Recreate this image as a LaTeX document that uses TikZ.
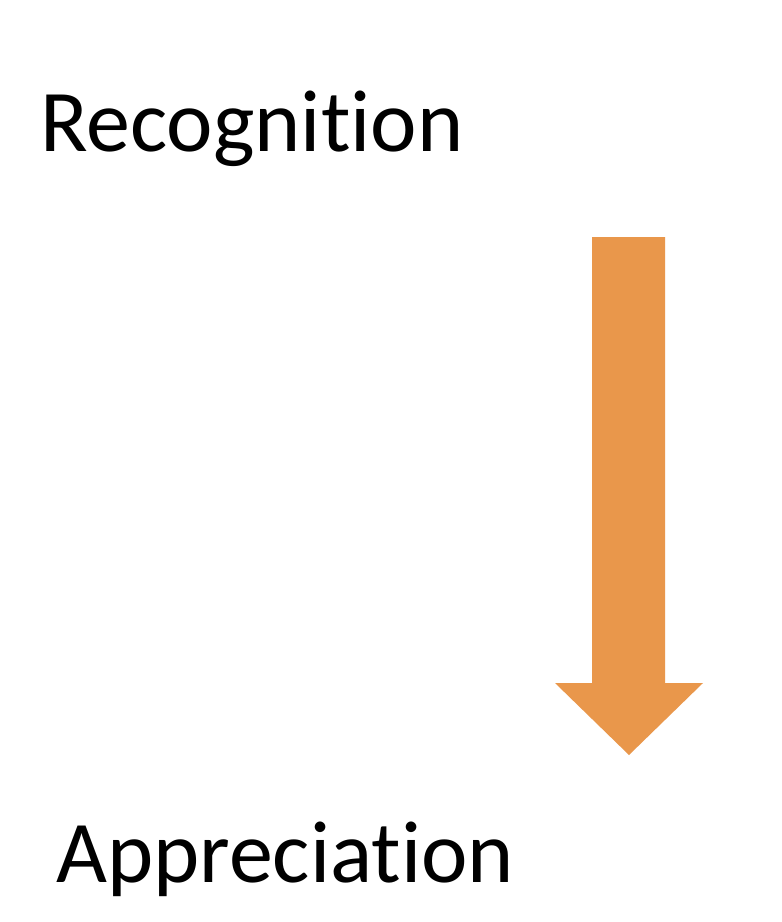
\documentclass[tikz,border=0pt]{standalone}
\usepackage{fontspec}
\setmainfont[Ligatures=NoCommon]{Carlito}
\definecolor{arroworange}{HTML}{E9974B}
\begin{document}
\begin{tikzpicture}[x=1pt,y=-1pt,
  label/.style={inner sep=0pt, anchor=base west, font=\fontsize{88}{96}\selectfont, text=black}]
\useasboundingbox (0,0) rectangle (782,922);
\fill[white] (0,0) rectangle (782,922);
\node[label] (rec) at (40,151) {Recognition};
\node[label] (app) at (56,882) {Appreciation};
\fill[arroworange] (592,237) -- (665,237) -- (665,683) -- (703,683) -- (629,755) -- (555,683) -- (592,683) -- cycle;
\end{tikzpicture}
\end{document}
